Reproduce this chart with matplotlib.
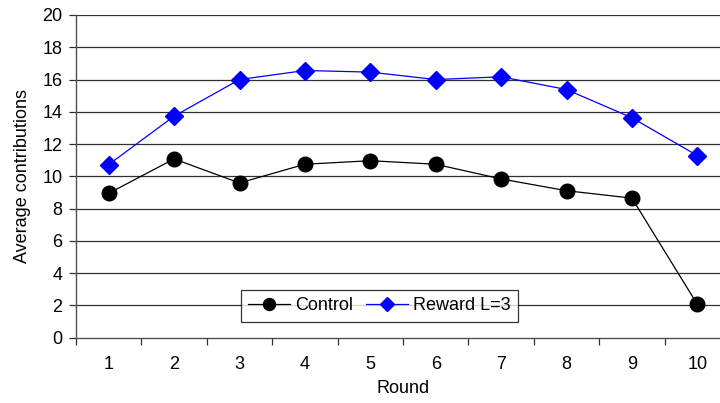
import matplotlib
matplotlib.use("Agg")
import matplotlib.pyplot as plt
import numpy as np

rounds = [1, 2, 3, 4, 5, 6, 7, 8, 9, 10]
control = [8.95, 11.08, 9.59, 10.75, 10.97, 10.75, 9.84, 9.11, 8.65, 2.07]
reward = [10.73, 13.73, 16.0, 16.56, 16.46, 16.0, 16.17, 15.38, 13.63, 11.29]
yticks = [0, 2, 4, 6, 8, 10, 12, 14, 16, 18, 20]

plt.rcParams['font.family'] = ['Liberation Sans', 'DejaVu Sans']
FS = 13

fig = plt.figure(figsize=(7.2, 4.03), dpi=100)
ax = fig.add_axes([76/720, (403-337.7)/403, (730-76)/720, (337.7-15)/403])

for y in yticks[1:]:
    ax.axhline(y, color='#303030', lw=0.9, zorder=0)

ax.plot(rounds, control, color='black', lw=0.9, marker='o', markersize=10.5,
        markerfacecolor='black', markeredgecolor='black', label='Control', zorder=3)
ax.plot(rounds, reward, color='#0000ff', lw=0.9, marker='D', markersize=9.3,
        markerfacecolor='#0000ff', markeredgecolor='#0000ff', label='Reward L=3', zorder=3)

ax.set_xlim(0.5, 10.5)
ax.set_ylim(0, 20)
ax.set_yticks(yticks)
ax.set_yticklabels([str(v) for v in yticks])
ax.set_xticks(np.arange(0.5, 11.0, 1.0))
ax.set_xticklabels([])
ax.set_xticks(rounds, minor=True)
ax.set_xticklabels([str(r) for r in rounds], minor=True)
ax.tick_params(axis='x', which='major', length=4.8, width=0.9, color='#303030', direction='out')
ax.tick_params(axis='x', which='minor', length=0, pad=13, labelsize=FS)
ax.tick_params(axis='y', length=5.4, width=0.9, color='#303030', labelsize=FS, pad=4.5)

for s in ['top', 'right']:
    ax.spines[s].set_visible(False)
for s in ['left', 'bottom']:
    ax.spines[s].set_color('#505050')
    ax.spines[s].set_linewidth(1.0)

ax.set_xlabel('Round', fontsize=FS, labelpad=5)
ax.set_ylabel('Average contributions', fontsize=FS, labelpad=8)

leg = ax.legend(loc='center', bbox_to_anchor=((379.5-76)/(730-76), (337.7-305.8)/322.7),
                ncol=2, frameon=True, fancybox=False, fontsize=FS,
                handlelength=2.3, handletextpad=0.3, columnspacing=0.75,
                borderpad=0.4, borderaxespad=0, markerscale=0.82)
leg.get_frame().set_edgecolor('black')
leg.get_frame().set_linewidth(0.9)

fig.savefig('out.png', dpi=100)
